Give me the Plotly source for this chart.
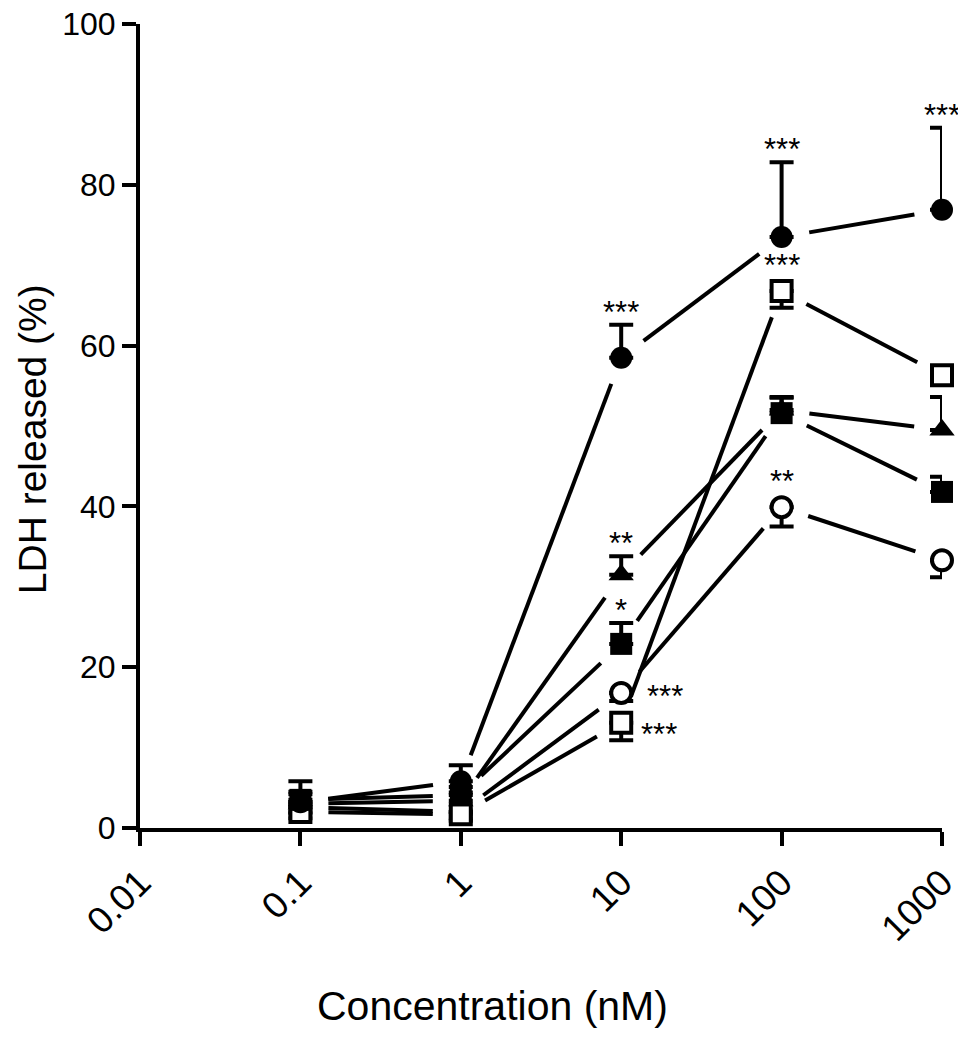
import math
import plotly.graph_objects as go

# concentrations (nM)
conc = [0.1, 1, 10, 100, 1000]

# mean LDH released (%) and SEM for each series
filled_circle = [3.2, 5.8, 58.5, 73.5, 76.9]
filled_circle_err = [1.0, 2.0, 4.1, 9.3, 10.2]
filled_triangle = [3.0, 3.4, 31.5, 52.0, 49.5]
filled_triangle_err = [1.5, 1.0, 2.3, 1.5, 4.1]
filled_square = [3.5, 4.1, 22.9, 51.6, 41.8]
filled_square_err = [2.3, 1.0, 2.6, 2.0, 1.9]
open_circle = [2.6, 2.0, 16.8, 39.9, 33.3]
open_circle_err = [0.8, 0.8, 1.0, 2.4, 2.1]
open_square = [2.0, 1.7, 13.1, 66.8, 56.3]
open_square_err = [0.8, 0.8, 2.2, 2.1, 1.0]

x_tickvals = [0.01, 0.1, 1, 10, 100, 1000]
x_ticktext = ["0.01", "0.1", "1", "10", "100", "1000"]

# significance marks: (series, point index, label, where)
sig_marks = [
    ("fc", 2, "***", "above"),
    ("fc", 3, "***", "above"),
    ("fc", 4, "***", "above"),
    ("ft", 2, "**", "above"),
    ("fs", 2, "*", "above"),
    ("oc", 2, "***", "right"),
    ("oc", 3, "**", "above"),
    ("os", 2, "***", "right"),
    ("os", 3, "***", "above"),
]

FONT = "Arial, Liberation Sans, sans-serif"
FIG_W, FIG_H = 966, 1043
M_L, M_R, M_T, M_B = 132, 32, 16, 223
PLOT_W = FIG_W - M_L - M_R
PLOT_H = FIG_H - M_T - M_B
X_RANGE = [-2, 3]
Y_RANGE = [0, 100]
GAP = 28  # px left blank between a line and the symbol it joins

series = {
    "fc": (filled_circle, filled_circle_err, "circle", True),
    "ft": (filled_triangle, filled_triangle_err, "triangle-up", True),
    "fs": (filled_square, filled_square_err, "square", True),
    "oc": (open_circle, open_circle_err, "circle", False),
    "os": (open_square, open_square_err, "square", False),
}
draw_order = ["oc", "os", "fc", "ft", "fs"]

kx = PLOT_W / (X_RANGE[1] - X_RANGE[0])
ky = PLOT_H / (Y_RANGE[1] - Y_RANGE[0])


def gapped_segments(xs, ys):
    # shorten every segment at both ends so it stops short of the symbols
    out_x, out_y = [], []
    for i in range(len(xs) - 1):
        u0, v0 = math.log10(xs[i]) * kx, ys[i] * ky
        u1, v1 = math.log10(xs[i + 1]) * kx, ys[i + 1] * ky
        d = math.hypot(u1 - u0, v1 - v0)
        if d <= 2 * GAP:
            continue
        f = GAP / d
        a = (u0 + (u1 - u0) * f, v0 + (v1 - v0) * f)
        b = (u1 - (u1 - u0) * f, v1 - (v1 - v0) * f)
        out_x += [10 ** (a[0] / kx), 10 ** (b[0] / kx), None]
        out_y += [a[1] / ky, b[1] / ky, None]
    return out_x, out_y


fig = go.Figure()

for key in draw_order:
    lx, ly = gapped_segments(conc, series[key][0])
    fig.add_trace(go.Scatter(x=lx, y=ly, mode="lines",
                             line=dict(color="black", width=4),
                             showlegend=False, hoverinfo="skip"))

for key in draw_order:
    y, err, sym, filled = series[key]
    zeros = [0] * len(err)
    if filled:
        ebar = dict(type="data", symmetric=False, array=err, arrayminus=zeros)
        mk = dict(symbol=sym, size=22, color="black")
    else:
        ebar = dict(type="data", symmetric=False, array=zeros, arrayminus=err)
        mk = dict(symbol=sym, size=20, color="white",
                  line=dict(color="black", width=4))
    ebar.update(color="black", thickness=4, width=12)
    fig.add_trace(go.Scatter(x=conc, y=y, mode="markers", marker=mk,
                             error_y=ebar, cliponaxis=False, showlegend=False))

right_shift = {"oc": (24, -4), "os": (18, -12)}
for key, i, txt, where in sig_marks:
    y, err, sym, filled = series[key]
    if where == "above":
        base = y[i] + err[i] if filled else y[i]
        shift = -7 if filled else 6
        fig.add_annotation(x=math.log10(conc[i]), y=base, text=txt,
                           showarrow=False, yanchor="bottom", yshift=shift,
                           font=dict(family=FONT, size=31, color="black"))
    else:
        dx, dy = right_shift[key]
        fig.add_annotation(x=math.log10(conc[i]), y=y[i], text=txt,
                           showarrow=False, xanchor="left", yanchor="middle",
                           xshift=dx, yshift=dy,
                           font=dict(family=FONT, size=31, color="black"))

# axis titles (placed like the original, slightly off the plot centre)
fig.add_annotation(xref="paper", yref="paper", x=0.439, y=-0.222,
                   text="Concentration (nM)", showarrow=False,
                   xanchor="center", yanchor="middle",
                   font=dict(family=FONT, size=41, color="black"))
fig.add_annotation(xref="paper", yref="paper", x=-0.134, y=0.483,
                   text="LDH released (%)", showarrow=False, textangle=-90,
                   xanchor="center", yanchor="middle",
                   font=dict(family=FONT, size=39, color="black"))

axis_style = dict(showline=True, linecolor="black", linewidth=4,
                  ticks="outside", ticklen=14, tickwidth=4, tickcolor="black",
                  showgrid=False, zeroline=False, ticklabeloverflow="allow",
                  automargin=False)

fig.update_layout(
    width=FIG_W, height=FIG_H,
    margin=dict(l=M_L, r=M_R, t=M_T, b=M_B),
    plot_bgcolor="white", paper_bgcolor="white",
    font=dict(family=FONT, color="black"),
    xaxis=dict(type="log", range=X_RANGE, tickvals=x_tickvals,
               ticktext=x_ticktext, tickangle=-45,
               tickfont=dict(family=FONT, size=37, color="black"),
               **axis_style),
    yaxis=dict(range=Y_RANGE, dtick=20,
               tickfont=dict(family=FONT, size=32, color="black"),
               **axis_style),
)

fig.write_html("out.html")
